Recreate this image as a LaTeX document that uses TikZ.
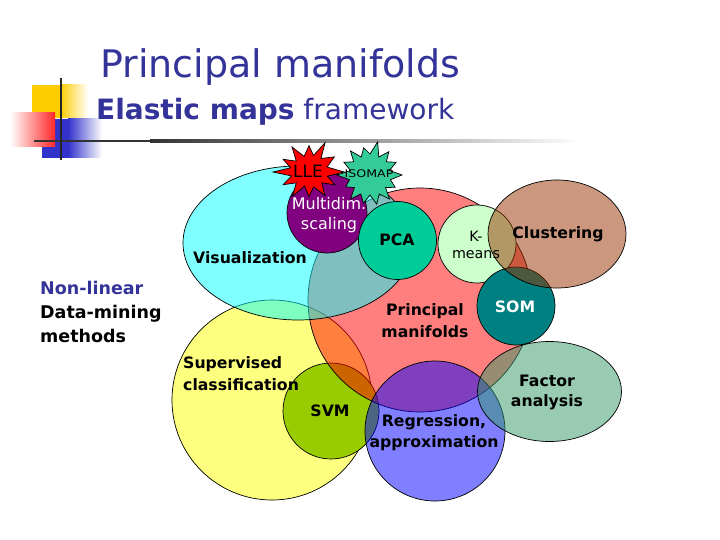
\documentclass[tikz,border=0pt]{standalone}
\usepackage{fontspec}
\setmainfont{DejaVu Sans}
\usepackage{graphicx}
\definecolor{titleblue}{RGB}{51,51,153}
\definecolor{logoyellow}{RGB}{255,204,0}
\definecolor{logoblue}{RGB}{51,51,204}
\definecolor{logored}{RGB}{255,40,40}
\definecolor{yellowc}{RGB}{255,255,0}
\definecolor{redc}{RGB}{255,0,0}
\definecolor{cyanc}{RGB}{0,255,255}
\definecolor{bluec}{RGB}{0,0,255}
\definecolor{svmgreen}{RGB}{153,204,0}
\definecolor{mdspurple}{RGB}{128,0,128}
\definecolor{llered}{RGB}{255,0,0}
\definecolor{isogreen}{RGB}{51,204,153}
\definecolor{pcagreen}{RGB}{0,204,153}
\definecolor{kmgreen}{RGB}{204,255,204}
\definecolor{somteal}{RGB}{0,128,128}
\definecolor{clusbrown}{RGB}{153,51,0}
\definecolor{faGreen}{RGB}{51,153,102}
\begin{document}
\begin{tikzpicture}[x=1pt,y=-1pt,
  outl/.style={draw=black, line width=0.7pt},
  semi/.style={fill opacity=0.5, draw opacity=1},
  lbl/.style={font=\bfseries\fontsize{15.7}{22}\selectfont, inner sep=0pt, align=center, text=black},
  reglbl/.style={font=\fontsize{14.3}{17}\selectfont, inner sep=0pt, align=center, text=black}]
\useasboundingbox[fill=white] (0,0) rectangle (720,540);

% logo
\fill[logoyellow] (32,85) rectangle (60,118);
\shade[left color=logoyellow, right color=white] (60,85) rectangle (88,118);
\fill[logoblue] (42,119) rectangle (68,158);
\shade[left color=logoblue, right color=white] (68,119) rectangle (102,158);
\shade[left color=white, right color=logored] (10,113) rectangle (55,147);
\fill[black!80] (34,139.8) rectangle (150,142.2);
\shade[left color=black!80, middle color=black!35, right color=white] (150,139.8) rectangle (580,142.2);
\draw[line width=2.5pt, black!85] (61,78) -- (61,160);

% titles
\node[anchor=base west, font=\fontsize{38}{40}\selectfont, text=titleblue, inner sep=0pt] (title) at (100,78) {Principal manifolds};
\node[anchor=base west, font=\fontsize{28}{30}\selectfont, text=titleblue, inner sep=0pt] (subtitle) at (96,120) {\textbf{Elastic maps} framework};

% shapes
\filldraw[outl, semi, fill=yellowc] (272,400) circle (100);
\filldraw[outl, fill=svmgreen] (331,411) circle (48);
\filldraw[outl, semi, fill=redc] (420,300) circle (112);
\filldraw[outl, semi, fill=cyanc] (298,243) ellipse [x radius=115, y radius=77];
\filldraw[outl, fill=mdspurple] (327,213) circle (40);

\begin{scope}[shift={(309,172)}, yscale=0.85]
\filldraw[outl, fill=llered] (0:35) \foreach \a/\r in {15/19, 30/30, 45/18, 60/32, 75/18, 90/29, 105/17, 120/33, 135/18, 150/30, 165/18, 180/36, 195/19, 210/30, 225/18, 240/34, 255/19, 270/31, 283/20, 295/38, 307/20, 325/31, 342/19} {-- (\a:\r)} -- cycle;
\end{scope}
\begin{scope}[shift={(370,175)}]
\filldraw[outl, fill=isogreen] (0:32) \foreach \a/\r in {13/21, 26/28, 39/20, 51/31, 64/21, 77/30, 90/20, 103/29, 116/21, 129/31, 141/20, 154/27, 167/21, 180/33, 193/20, 206/29, 219/21, 231/31, 244/20, 257/28, 270/21, 283/34, 296/20, 309/30, 321/21, 334/29, 347/20} {-- (\a:\r)} -- cycle;
\end{scope}

\filldraw[outl, fill=pcagreen] (397.5,240.5) circle (39);
\filldraw[outl, fill=kmgreen] (477,244) circle (39);
\filldraw[outl, fill=somteal] (516,306) circle (39);
\filldraw[outl, semi, fill=clusbrown] (557,234) ellipse [x radius=69, y radius=54];
\filldraw[outl, semi, fill=bluec] (435,431) circle (70);
\filldraw[outl, semi, fill=faGreen] (549.5,391.5) ellipse [x radius=72, y radius=50];

% labels
\node[font=\fontsize{17}{20}\selectfont, inner sep=0pt] (lle) at (308,171) {LLE};
\node[font=\fontsize{10.5}{12}\selectfont, inner sep=0pt] (iso) at (369,174) {\scalebox{1.2}[1]{ISOMAP}};
\node[font=\fontsize{16}{19.5}\selectfont, inner sep=0pt, align=center, text=white] (mds) at (329,215) {Multidim.\\scaling};
\node[lbl] (pca) at (397,240) {PCA};
\node[reglbl] (km) at (476,245) {K-\\means};
\node[lbl] (clus) at (558,234) {Clustering};
\node[lbl, text=white] (som) at (515,307) {SOM};
\node[lbl] (vis) at (250,258) {Visualization};
\node[lbl] (pm) at (425,321) {Principal\\manifolds};
\node[lbl, align=left, anchor=west] (sup) at (183,374) {Supervised\\classification};
\node[lbl] (svm) at (330,411) {SVM};
\node[lbl, font=\bfseries\fontsize{15.7}{21}\selectfont] (reg) at (434,433) {Regression,\\approximation};
\node[lbl, font=\bfseries\fontsize{15.7}{20}\selectfont] (fa) at (547,392) {Factor\\analysis};
\node[font=\bfseries\fontsize{17.5}{24}\selectfont, inner sep=0pt, align=left, anchor=west] (nl) at (40,312) {\textcolor{titleblue}{Non-linear}\\Data-mining\\methods};
\end{tikzpicture}
\end{document}
